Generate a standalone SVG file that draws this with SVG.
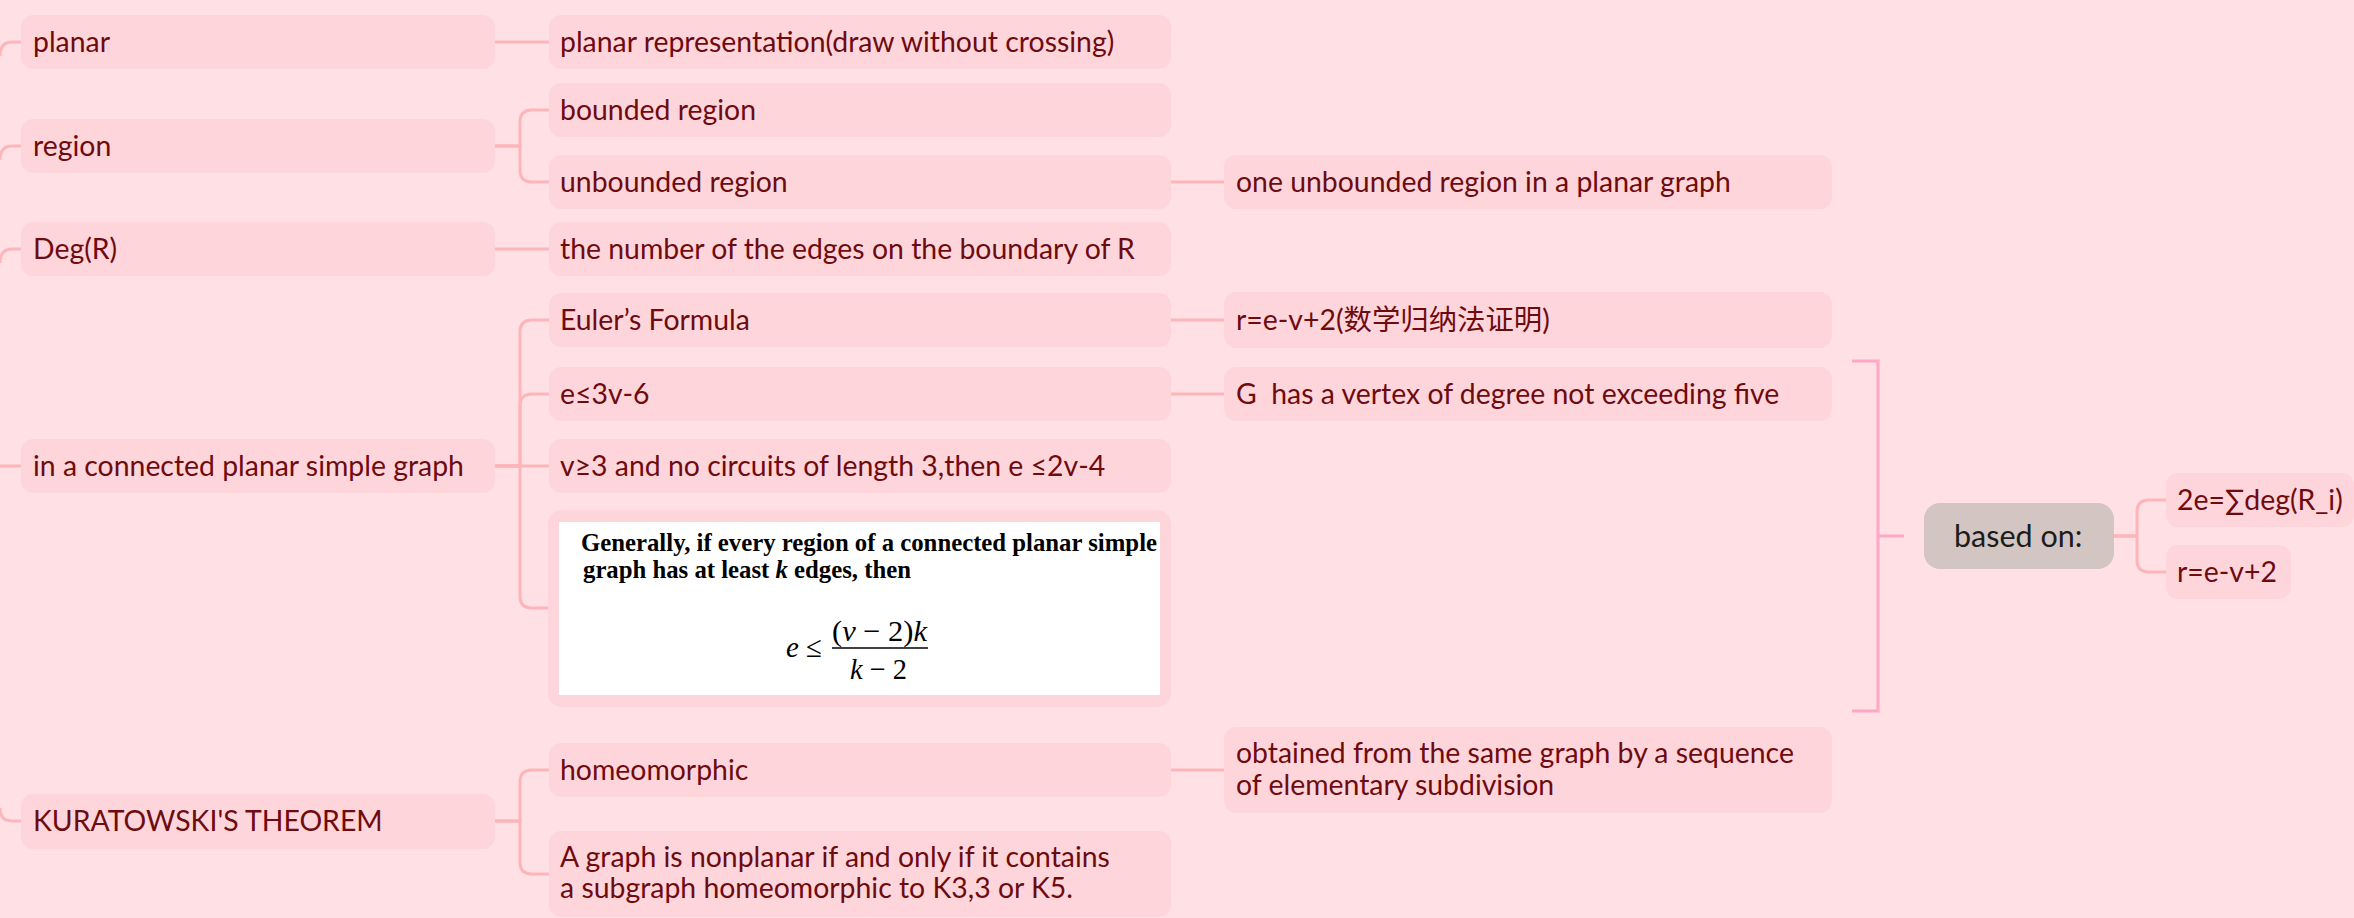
<svg xmlns="http://www.w3.org/2000/svg" width="2354" height="918" viewBox="0 0 2354 918">
<style>
.bg{fill:#fee0e5}
.n{fill:#fed5db}
.t{font-family:Lato,"Noto Sans CJK SC",sans-serif;font-size:28.4px;fill:#6e0b0f}
.c{fill:none;stroke:#fdb5b9;stroke-width:3}
.br{fill:none;stroke:#fea7c6;stroke-width:3}
.img{font-family:"Liberation Serif",serif;fill:#000}
</style>
<rect class="bg" x="0" y="0" width="2354" height="918"/>
<g id="connectors">
<path class="c" d="M0,56 Q0,42 12,42 H21"/>
<path class="c" d="M0,160 Q0,146 12,146 H21"/>
<path class="c" d="M0,263 Q0,249 12,249 H21"/>
<path class="c" d="M0,466 H21"/>
<path class="c" d="M0,808 Q0,821 12,821 H21"/>
<path class="c" d="M495,42 H549"/>
<path class="c" d="M495,146 H520 V122 Q520,110 532,110 H549"/>
<path class="c" d="M495,146 H520 V170 Q520,182 532,182 H549"/>
<path class="c" d="M495,249 H549"/>
<path class="c" d="M495,466 H520 V332 Q520,320 532,320 H549"/>
<path class="c" d="M495,466 H520 V406 Q520,394 532,394 H549"/>
<path class="c" d="M495,466 H549"/>
<path class="c" d="M495,466 H520 V596 Q520,608 532,608 H549"/>
<path class="c" d="M495,821 H520 V782 Q520,770 532,770 H549"/>
<path class="c" d="M495,821 H520 V862 Q520,874 532,874 H549"/>
<path class="c" d="M1171,182 H1224"/>
<path class="c" d="M1171,320 H1224"/>
<path class="c" d="M1171,394 H1224"/>
<path class="c" d="M1171,770 H1224"/>
<path class="c" d="M2114,536 H2137 V512 Q2137,500 2149,500 H2166"/>
<path class="c" d="M2114,536 H2137 V560 Q2137,572 2149,572 H2166"/>
<path class="br" d="M1852,361 H1878 V711 H1852 M1878,536 H1904"/>
</g>
<g id="planar"><rect class="n" x="21" y="15" width="474" height="54" rx="12"/><text class="t" x="33" y="52">planar</text></g>
<g id="region"><rect class="n" x="21" y="119" width="474" height="54" rx="12"/><text class="t" x="33" y="156">region</text></g>
<g id="degr"><rect class="n" x="21" y="222" width="474" height="54" rx="12"/><text class="t" x="33" y="259">Deg(R)</text></g>
<g id="connected"><rect class="n" x="21" y="439" width="474" height="54" rx="12"/><text class="t" x="33" y="476">in a connected planar simple graph</text></g>
<g id="kuratowski"><rect class="n" x="21" y="794" width="474" height="55" rx="12"/><text class="t" x="33" y="831">KURATOWSKI'S THEOREM</text></g>
<g id="planarrep"><rect class="n" x="549" y="15" width="622" height="54" rx="12"/><text class="t" x="560" y="52">planar representation(draw without crossing)</text></g>
<g id="bounded"><rect class="n" x="549" y="83" width="622" height="54" rx="12"/><text class="t" x="560" y="120">bounded region</text></g>
<g id="unbounded"><rect class="n" x="549" y="155" width="622" height="54" rx="12"/><text class="t" x="560" y="192">unbounded region</text></g>
<g id="numedges"><rect class="n" x="549" y="222" width="622" height="54" rx="12"/><text class="t" x="560" y="259">the number of the edges on the boundary of R</text></g>
<g id="euler"><rect class="n" x="549" y="293" width="622" height="54" rx="12"/><text class="t" x="560" y="330">Euler’s Formula</text></g>
<g id="e3v6"><rect class="n" x="549" y="367" width="622" height="54" rx="12"/><text class="t" x="560" y="404">e≤3v-6</text></g>
<g id="v3"><rect class="n" x="549" y="439" width="622" height="54" rx="12"/><text class="t" x="560" y="476">v≥3 and no circuits of length 3,then e ≤2v-4</text></g>
<g id="generally">
<rect class="n" x="548" y="510" width="623" height="197" rx="14"/>
<rect x="559" y="522" width="601" height="173" fill="#ffffff"/>
<text class="img" x="581" y="551" font-size="24.5" font-weight="bold" textLength="576" lengthAdjust="spacingAndGlyphs">Generally, if every region of a connected planar simple</text>
<text class="img" x="583" y="578" font-size="24.5" font-weight="bold" textLength="328" lengthAdjust="spacingAndGlyphs">graph has at least <tspan font-style="italic">k</tspan> edges, then</text>
<text class="img" x="786" y="657" font-size="30" textLength="36" lengthAdjust="spacingAndGlyphs"><tspan font-style="italic">e</tspan> ≤</text>
<text class="img" x="832" y="641" font-size="30" textLength="95" lengthAdjust="spacingAndGlyphs">(<tspan font-style="italic">v</tspan> − 2)<tspan font-style="italic">k</tspan></text>
<line x1="832" y1="648" x2="928" y2="648" stroke="#000" stroke-width="1.4"/>
<text class="img" x="850" y="679" font-size="30" textLength="57" lengthAdjust="spacingAndGlyphs"><tspan font-style="italic">k</tspan> − 2</text>
</g>
<g id="homeo"><rect class="n" x="549" y="743" width="622" height="54" rx="12"/><text class="t" x="560" y="780">homeomorphic</text></g>
<g id="nonplanar"><rect class="n" x="549" y="831" width="622" height="86" rx="12"/><text class="t" x="560" y="867">A graph is nonplanar if and only if it contains</text><text class="t" x="560" y="898">a subgraph homeomorphic to K3,3 or K5.</text></g>
<g id="oneunb"><rect class="n" x="1224" y="155" width="608" height="54" rx="12"/><text class="t" x="1236" y="192">one unbounded region in a planar graph</text></g>
<g id="reulerproof"><rect class="n" x="1224" y="292" width="608" height="56" rx="12"/><text class="t" x="1236" y="330">r=e-v+2(数学归纳法证明)</text></g>
<g id="gvertex"><rect class="n" x="1224" y="367" width="608" height="54" rx="12"/><text class="t" x="1236" y="404" style="white-space:pre">G  has a vertex of degree not exceeding five</text></g>
<g id="obtained"><rect class="n" x="1224" y="727" width="608" height="86" rx="12"/><text class="t" x="1236" y="763">obtained from the same graph by a sequence</text><text class="t" x="1236" y="795">of elementary subdivision</text></g>
<g id="basedon"><rect x="1924" y="503" width="190" height="66" rx="16" fill="#d3c5c1"/><text x="1954" y="547" font-family="Lato,sans-serif" font-size="30.5" fill="#1c1c1c">based on:</text></g>
<g id="sumdeg"><rect class="n" x="2166" y="473" width="188" height="54" rx="12"/><text class="t" x="2177" y="510">2e=∑deg(R_i)</text></g>
<g id="reuler"><rect class="n" x="2166" y="545" width="125" height="54" rx="12"/><text class="t" x="2177" y="582">r=e-v+2</text></g>
</svg>
